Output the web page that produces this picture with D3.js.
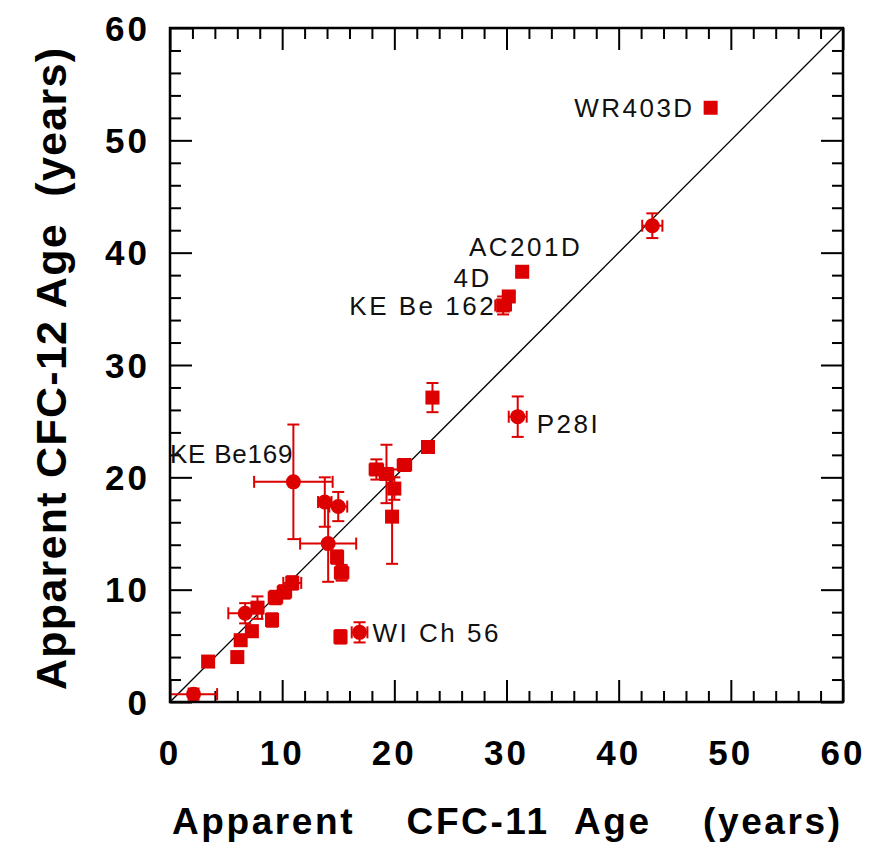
<!DOCTYPE html>
<html>
<head>
<meta charset="utf-8">
<script src="https://cdn.jsdelivr.net/npm/d3@7"></script>
<style>
  html, body { margin: 0; padding: 0; background: #fff; }
  svg { display: block; }
</style>
</head>
<body>
<div id="chart"></div>
<script>
// sample data
var cfc11Age = [2.1, 3.4, 6.0, 6.3, 7.3, 6.7, 7.8, 9.1, 9.4, 10.2, 10.9, 11.0, 13.8, 15.0, 14.1, 14.9,
    15.3, 15.2, 16.9, 18.4, 19.3, 20.0, 19.8, 20.9, 23.0, 23.4, 31.0, 29.7, 30.2, 31.4, 43.0, 48.2];
var cfc12Age = [0.7, 3.6, 4.0, 5.5, 6.3, 7.9, 8.4, 7.3, 9.3, 9.8, 10.6, 19.6, 17.8, 17.4, 14.1, 12.9,
    11.5, 5.8, 6.2, 20.7, 20.3, 19.0, 16.5, 21.1, 22.7, 27.1, 25.4, 35.3, 36.1, 38.3, 42.4, 52.9];
var cfc11Err = [2.1, 0.4, 0.4, 0.4, 0.4, 1.5, 0.5, 0.5, 0.6, 0.6, 0.8, 3.5, 0.6, 0.8, 2.5, 0.5,
    0.6, 0.5, 0.7, 0.6, 0.6, 0.5, 0.5, 0.6, 0.5, 0.5, 0.8, 0.7, 0.5, 0.5, 0.9, 0.4];
var cfc12Err = [0.5, 0.3, 0.4, 0.4, 0.5, 0.9, 1.0, 0.6, 0.6, 0.6, 0.6, 5.1, 2.2, 1.3, 3.4, 0.6,
    0.7, 0.6, 0.9, 0.9, 2.6, 1.0, 4.2, 0.5, 0.5, 1.3, 1.8, 0.8, 0.4, 0.3, 1.1, 0.3];
var shapes = ["c", "s", "s", "s", "s", "c", "s", "s", "s", "s", "s", "c", "c", "c", "c", "s",
    "s", "s", "c", "s", "s", "s", "s", "s", "s", "s", "c", "s", "s", "s", "c", "s"];

// site labels: index of the sample, anchor, offsets in px
var labelText = ["WR403D", "AC201D", "4D", "KE Be 162", "P28I", "KE Be169", "WI Ch 56"];
var labelPoint = [31, 29, 28, 27, 26, 11, 18];
var labelAnchor = ["end", "end", "end", "end", "start", "end", "start"];
var labelDx = [-16, 60, -17, -7, 19, 0, 13];
var labelDy = [0, -25, -19, 0, 7, -28, 0];
var labelSpacing = [2.5, 2.5, 2.5, 2.5, 2.5, 0.8, 2.5];

var majorTicks = [0, 10, 20, 30, 40, 50, 60];
var minorTicks = d3.range(0, 61, 2).filter(function (v) { return v % 10 !== 0; });

var width = 874, height = 848;
var plotLeft = 170, plotRight = 843, plotTop = 28, plotBottom = 702;
var red = "#dc0000";

var x = d3.scaleLinear().domain([0, 60]).range([plotLeft, plotRight]);
var y = d3.scaleLinear().domain([0, 60]).range([plotBottom, plotTop]);

var svg = d3.select("#chart").append("svg")
    .attr("width", width)
    .attr("height", height)
    .attr("font-family", "'Liberation Sans', Arial, Helvetica, sans-serif");

// ticks on all four sides, pointing inward
function tickSet(axisFn, scale, values, size, tx, ty) {
    var g = svg.append("g")
        .attr("transform", "translate(" + tx + "," + ty + ")")
        .call(axisFn(scale).tickValues(values).tickSize(size).tickFormat(""));
    g.select(".domain").remove();
    g.selectAll(".tick line").attr("stroke", "#000").attr("stroke-width", 2);
    return g;
}
tickSet(d3.axisBottom, x, majorTicks, -22, 0, plotBottom);
tickSet(d3.axisBottom, x, minorTicks, -11, 0, plotBottom);
tickSet(d3.axisTop, x, majorTicks, -22, 0, plotTop);
tickSet(d3.axisTop, x, minorTicks, -11, 0, plotTop);
tickSet(d3.axisLeft, y, majorTicks, -22, plotLeft, 0);
tickSet(d3.axisLeft, y, minorTicks, -11, plotLeft, 0);
tickSet(d3.axisRight, y, majorTicks, -22, plotRight, 0);
tickSet(d3.axisRight, y, minorTicks, -11, plotRight, 0);

// tick labels
svg.append("g").selectAll("text")
    .data(majorTicks)
    .enter().append("text")
    .attr("x", function (d) { return x(d); })
    .attr("y", plotBottom + 63)
    .attr("text-anchor", "middle")
    .attr("font-size", 35)
    .attr("font-weight", "bold")
    .attr("letter-spacing", 3)
    .text(function (d) { return d; });

svg.append("g").selectAll("text")
    .data(majorTicks)
    .enter().append("text")
    .attr("x", plotLeft - 20)
    .attr("y", function (d) { return y(d); })
    .attr("dy", "0.36em")
    .attr("text-anchor", "end")
    .attr("font-size", 35)
    .attr("font-weight", "bold")
    .attr("letter-spacing", 3)
    .text(function (d) { return d; });

// 1:1 line
svg.append("line")
    .attr("x1", x(0)).attr("y1", y(0))
    .attr("x2", x(60)).attr("y2", y(60))
    .attr("stroke", "#000")
    .attr("stroke-width", 1.3);

// error bars and markers
var pts = cfc11Age.map(function (v, i) {
    return { x: v, y: cfc12Age[i], ex: cfc11Err[i], ey: cfc12Err[i], shape: shapes[i] };
});
var cap = 6;
var errG = svg.append("g").attr("stroke", red).attr("stroke-width", 2);
pts.forEach(function (d) {
    var px = x(d.x), py = y(d.y);
    var x0 = x(d.x - d.ex), x1 = x(d.x + d.ex);
    var y0 = y(d.y - d.ey), y1 = y(d.y + d.ey);
    errG.append("line").attr("x1", x0).attr("x2", x1).attr("y1", py).attr("y2", py);
    errG.append("line").attr("x1", x0).attr("x2", x0).attr("y1", py - cap).attr("y2", py + cap);
    errG.append("line").attr("x1", x1).attr("x2", x1).attr("y1", py - cap).attr("y2", py + cap);
    errG.append("line").attr("x1", px).attr("x2", px).attr("y1", y0).attr("y2", y1);
    errG.append("line").attr("x1", px - cap).attr("x2", px + cap).attr("y1", y0).attr("y2", y0);
    errG.append("line").attr("x1", px - cap).attr("x2", px + cap).attr("y1", y1).attr("y2", y1);
});

var markG = svg.append("g").attr("fill", red);
markG.selectAll("rect")
    .data(pts.filter(function (d) { return d.shape === "s"; }))
    .enter().append("rect")
    .attr("x", function (d) { return x(d.x) - 7; })
    .attr("y", function (d) { return y(d.y) - 7; })
    .attr("width", 14)
    .attr("height", 14);
markG.selectAll("circle")
    .data(pts.filter(function (d) { return d.shape === "c"; }))
    .enter().append("circle")
    .attr("cx", function (d) { return x(d.x); })
    .attr("cy", function (d) { return y(d.y); })
    .attr("r", 7.5);

// site labels
svg.append("g").selectAll("text")
    .data(labelText)
    .enter().append("text")
    .attr("x", function (d, i) { return x(cfc11Age[labelPoint[i]]) + labelDx[i]; })
    .attr("y", function (d, i) { return y(cfc12Age[labelPoint[i]]) + labelDy[i]; })
    .attr("dy", "0.36em")
    .attr("text-anchor", function (d, i) { return labelAnchor[i]; })
    .attr("font-size", 26)
    .attr("letter-spacing", function (d, i) { return labelSpacing[i]; })
    .attr("fill", "#111")
    .text(function (d) { return d; });

// frame
svg.append("rect")
    .attr("x", plotLeft).attr("y", plotTop)
    .attr("width", plotRight - plotLeft).attr("height", plotBottom - plotTop)
    .attr("fill", "none")
    .attr("stroke", "#000")
    .attr("stroke-width", 2.5);

// axis titles
svg.append("text")
    .attr("x", 172)
    .attr("y", 834)
    .attr("font-size", 37)
    .attr("font-weight", "bold")
    .attr("textLength", 668)
    .attr("lengthAdjust", "spacing")
    .style("white-space", "pre")
    .text("Apparent    CFC-11  Age    (years)");

svg.append("text")
    .attr("transform", "translate(66,690) rotate(-90)")
    .attr("font-size", 43)
    .attr("font-weight", "bold")
    .attr("textLength", 642)
    .attr("lengthAdjust", "spacing")
    .style("white-space", "pre")
    .text("Apparent CFC-12 Age  (years)");
</script>
</body>
</html>
